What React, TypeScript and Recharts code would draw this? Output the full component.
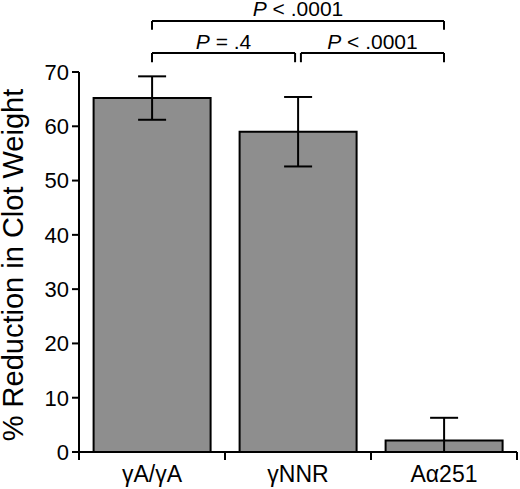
import { BarChart, Bar, XAxis, YAxis, ErrorBar, ReferenceLine } from "recharts"

const categories = ["γA/γA", "γNNR", "Aα251"]
const means = [65.2, 59.0, 2.1]
const errLow = [4.0, 6.4, 2.1]
const errHigh = [4.0, 6.4, 4.2]
const yTicks = [0, 10, 20, 30, 40, 50, 60, 70]

// comparison brackets, x in category units (0..3), y in % units
const brackets = [
  { x1: 0.5, x2: 2.5, y: 79.4, drop: 1.6, op: "< .0001" },
  { x1: 0.5, x2: 1.48, y: 73.5, drop: 1.7, op: "= .4" },
  { x1: 1.52, x2: 2.5, y: 73.5, drop: 1.7, op: "< .0001" },
]

const data = categories.map((name, i) => ({
  name,
  pos: i + 0.5,
  value: means[i],
  err: [errLow[i], errHigh[i]],
}))

const FONT = "Arial, 'Liberation Sans', Helvetica, sans-serif"
const TICK_LEN = 8
const TICK_GAP = 6

function CategoryTick(props: any) {
  const { x, y, payload, index, visibleTicksCount } = props
  const half = payload.offset ?? 73
  const axisY = y - TICK_LEN - TICK_GAP
  return (
    <g>
      <line x1={x - half} x2={x - half} y1={axisY} y2={axisY + TICK_LEN} stroke="#000" strokeWidth={2} />
      {index === visibleTicksCount - 1 && (
        <line x1={x + half} x2={x + half} y1={axisY} y2={axisY + TICK_LEN} stroke="#000" strokeWidth={2} />
      )}
      <text x={x} y={y} dy="0.71em" textAnchor="middle" fontSize={23} fontFamily={FONT} fill="#000">
        {payload.value}
      </text>
    </g>
  )
}

function pLabel(op: string) {
  return (props: any) => {
    const vb = props.viewBox
    return (
      <text x={vb.x + vb.width / 2} y={vb.y - 4.5} textAnchor="middle" fontSize={21} fontFamily={FONT} fill="#000">
        <tspan fontStyle="italic">P</tspan> {op}
      </text>
    )
  }
}

export default function App() {
  return (
    <div style={{ position: "absolute", left: 0, top: 0 }}>
      <BarChart width={520} height={489} data={data} margin={{ top: 72, right: 3, bottom: 0, left: 0 }} barCategoryGap="10%">
        <XAxis
          dataKey="name"
          height={37}
          axisLine={{ stroke: "#000", strokeWidth: 2 }}
          tickLine={false}
          tickSize={TICK_LEN}
          tickMargin={TICK_GAP}
          tick={<CategoryTick />}
          interval={0}
        />
        <XAxis xAxisId="n" dataKey="pos" type="number" domain={[0, 3]} allowDataOverflow hide />
        <YAxis
          width={79}
          domain={[0, 70]}
          ticks={yTicks}
          interval={0}
          axisLine={{ stroke: "#000", strokeWidth: 2 }}
          tickLine={{ stroke: "#000", strokeWidth: 2 }}
          tickSize={7}
          tickMargin={3}
          tick={{ fontSize: 22, fill: "#000", fontFamily: FONT }}
          label={{
            content: (props: any) => {
              const vb = props.viewBox
              const cx = vb.x + 13
              const cy = vb.y + vb.height / 2 + 3
              return (
                <text
                  x={cx}
                  y={cy}
                  transform={`rotate(-90, ${cx}, ${cy})`}
                  textAnchor="middle"
                  dominantBaseline="central"
                  fontSize={29}
                  fontFamily={FONT}
                  fill="#000"
                >
                  % Reduction in Clot Weight
                </text>
              )
            },
          }}
        />
        <Bar dataKey="value" fill="#8e8e8e" stroke="#000" strokeWidth={2} isAnimationActive={false}>
          <ErrorBar dataKey="err" width={14} stroke="#000" strokeWidth={2} />
        </Bar>
        {brackets.map((b, i) => (
          <g key={i}>
            <ReferenceLine
              xAxisId="n"
              ifOverflow="visible"
              segment={[{ x: b.x1, y: b.y }, { x: b.x2, y: b.y }]}
              stroke="#000"
              strokeWidth={2}
              label={{ content: pLabel(b.op) }}
            />
            <ReferenceLine
              xAxisId="n"
              ifOverflow="visible"
              segment={[{ x: b.x1, y: b.y }, { x: b.x1, y: b.y - b.drop }]}
              stroke="#000"
              strokeWidth={2}
            />
            <ReferenceLine
              xAxisId="n"
              ifOverflow="visible"
              segment={[{ x: b.x2, y: b.y }, { x: b.x2, y: b.y - b.drop }]}
              stroke="#000"
              strokeWidth={2}
            />
          </g>
        ))}
      </BarChart>
    </div>
  )
}
